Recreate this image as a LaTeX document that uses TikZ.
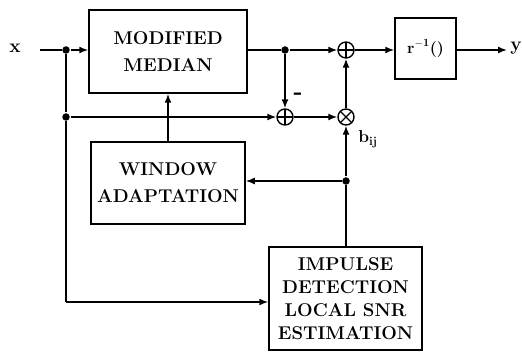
\documentclass[tikz,border=0pt]{standalone}
\usetikzlibrary{arrows.meta}
\begin{document}
\begin{tikzpicture}[x=1pt,y=-1pt, line width=1.5pt, >={Latex[length=9pt,width=7pt]},
 blk/.style={draw, inner sep=0pt, align=center, font=\bfseries\fontsize{18.5}{27}\selectfont},
 lbl/.style={inner sep=0pt, font=\bfseries\fontsize{19}{20}\selectfont},
 sumc/.style={draw, circle, minimum size=16pt, inner sep=0pt, line width=1.4pt,
   path picture={\draw[line width=1.4pt] (path picture bounding box.north) -- (path picture bounding box.south)
     (path picture bounding box.west) -- (path picture bounding box.east);}},
 mulc/.style={draw, circle, minimum size=16pt, inner sep=0pt, line width=1.4pt,
   path picture={\draw[line width=1.4pt] (path picture bounding box.center) +(-5.7,-5.7) -- +(5.7,5.7)
     (path picture bounding box.center) +(-5.7,5.7) -- +(5.7,-5.7);}},
 dot/.style={circle, fill, minimum size=7.5pt, inner sep=0pt}]
\useasboundingbox (0,0) rectangle (522,352);

% blocks
\node[blk, minimum width=158pt, minimum height=83pt] (med) at (168,51.5) {MODIFIED\\MEDIAN};
\node[blk, minimum width=154pt, minimum height=82pt] (win) at (168,183) {WINDOW\\ADAPTATION};
\node[blk, minimum width=61pt, minimum height=61pt, font=\bfseries\fontsize{16}{18}\selectfont] (rinv) at (425.5,48.5) {r$^{\mathbf{-1}}$()};
\node[blk, minimum width=153pt, minimum height=103pt, font=\bfseries\fontsize{18.5}{23}\selectfont] (imp) at (345.5,298.5) {IMPULSE\\DETECTION\\LOCAL SNR\\ESTIMATION};

% summing / multiplying junctions
\node[sumc] (p1) at (346,50) {};
\node[sumc] (p2) at (285,117) {};
\node[mulc] (m1) at (346,117) {};

% dots and corners
\node[dot] (j1) at (66,50) {};
\node[dot] (j2) at (66,117) {};
\node[dot] (j3) at (285,50) {};
\node[dot] (j4) at (346,181) {};
\coordinate (c1) at (66,302);
\coordinate (xs) at (40,50);
\coordinate (ye) at (507,50);

% labels
\node[lbl] (xl) at (15,48) {x};
\node[lbl] (yl) at (516,48) {y};
\node[inner sep=0pt, font=\bfseries\fontsize{24}{24}\selectfont] (minus) at (298,96) {-};
\node[inner sep=0pt, font=\fontsize{17}{18}\selectfont] (bij) at (368,139) {$\mathbf{b}_{\mathbf{ij}}$};

% connectors
\draw (xs) -- (j1);
\draw[->] (j1) -- (j1 -| med.west);
\draw (j1) -- (j2) -- (c1);
\draw[->] (c1) -- (c1 -| imp.west);
\draw (med.east |- j3) -- (j3);
\draw[->] (j3) -- (p1);
\draw[->] (p1) -- (p1 -| rinv.west);
\draw[->] (rinv.east |- ye) -- (ye);
\draw[->] (j3) -- (p2);
\draw[->] (j2) -- (p2);
\draw[->] (p2) -- (m1);
\draw[->] (m1) -- (p1);
\draw (j4 |- imp.north) -- (j4);
\draw[->] (j4) -- (m1);
\draw[->] (j4) -- (j4 -| win.east);
\draw[->] (win.north) -- (med.south);
\end{tikzpicture}
\end{document}
